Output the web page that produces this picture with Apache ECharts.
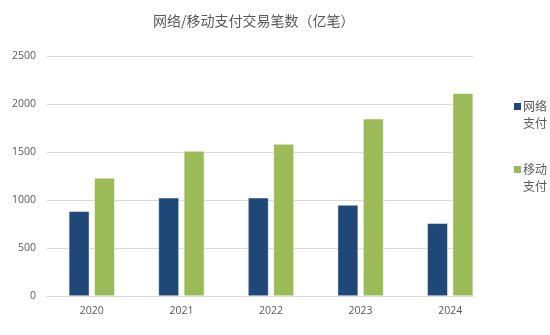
<!DOCTYPE html>
<html>
<head>
<meta charset="utf-8">
<script src="https://cdn.jsdelivr.net/npm/echarts@6/dist/echarts.min.js"></script>
<style>html,body{margin:0;padding:0;background:#fff;}#c{width:550px;height:335px;}</style>
</head>
<body>
<div id="c"></div>
<script>
var categories = ['2020', '2021', '2022', '2023', '2024'];
var seriesNames = ['网络支付', '移动支付'];
var networkPay = [882, 1023, 1023, 948, 757];
var mobilePay = [1230, 1510, 1583, 1847, 2111];
var yTicks = [0, 500, 1000, 1500, 2000, 2500];
var colors = ['#1f4778', '#9bbb59'];

var chart = echarts.init(document.getElementById('c'));
chart.setOption({
  animation: false,
  title: {
    text: '网络/移动支付交易笔数（亿笔）',
    left: 148,
    top: 9,
    textStyle: { fontFamily: 'Noto Sans CJK SC', fontSize: 14, fontWeight: 'normal', color: '#595959' }
  },
  legend: {
    orient: 'vertical',
    left: 503,
    top: 93,
    padding: 5,
    itemWidth: 0,
    itemHeight: 0,
    itemGap: 29,
    icon: 'rect',
    formatter: function (n) {
      var k = n === seriesNames[0] ? 'b0' : 'b1';
      return '{' + k + '|}{t|' + n.slice(0, 2) + '}\n{sp|}{t|' + n.slice(2) + '}';
    },
    textStyle: {
      fontFamily: 'Noto Sans CJK SC', fontSize: 12, color: '#595959', lineHeight: 17,
      rich: {
        b0: { width: 7, height: 7, backgroundColor: colors[0] },
        b1: { width: 7, height: 7, backgroundColor: colors[1] },
        sp: { width: 7, height: 7 },
        t: { fontFamily: 'Noto Sans CJK SC', fontSize: 12, color: '#595959', lineHeight: 17, padding: [0, 0, 0, 2] }
      }
    },
    data: seriesNames
  },
  grid: [
    { left: 47, right: 77, top: 56, bottom: 39 },
    { left: 47, right: 55, top: 56, bottom: 39 }
  ],
  xAxis: [
    {
      type: 'category', gridIndex: 0,
      data: categories,
      axisLine: { lineStyle: { color: '#d9d9d9', width: 1 } },
      axisTick: { show: false },
      axisLabel: { show: false }
    },
    {
      type: 'category', gridIndex: 1,
      data: categories,
      axisLine: { show: false },
      axisTick: { show: false },
      axisLabel: { color: '#595959', fontSize: 10.5, fontFamily: 'Open Sans', margin: 10 }
    }
  ],
  yAxis: [
    {
      type: 'value', gridIndex: 0,
      min: yTicks[0],
      max: yTicks[yTicks.length - 1],
      interval: 500,
      axisLine: { show: false },
      axisTick: { show: false },
      splitLine: { lineStyle: { color: '#d9d9d9', width: 1 } },
      axisLabel: { color: '#595959', fontSize: 10.5, fontFamily: 'Open Sans', margin: 11, formatter: function (v) { return String(v); } }
    },
    {
      type: 'value', gridIndex: 1,
      min: yTicks[0],
      max: yTicks[yTicks.length - 1],
      interval: 500,
      show: false
    }
  ],
  series: [
    {
      name: seriesNames[0], type: 'bar', data: networkPay,
      xAxisIndex: 1, yAxisIndex: 1,
      barWidth: 20.5, barGap: '24%',
      itemStyle: { color: colors[0], borderColor: '#ffffff', borderWidth: 0.5 }
    },
    {
      name: seriesNames[1], type: 'bar', data: mobilePay,
      xAxisIndex: 1, yAxisIndex: 1,
      barWidth: 20.5, barGap: '24%',
      itemStyle: { color: colors[1], borderColor: '#ffffff', borderWidth: 0.5 }
    }
  ]
});
</script>
</body>
</html>
